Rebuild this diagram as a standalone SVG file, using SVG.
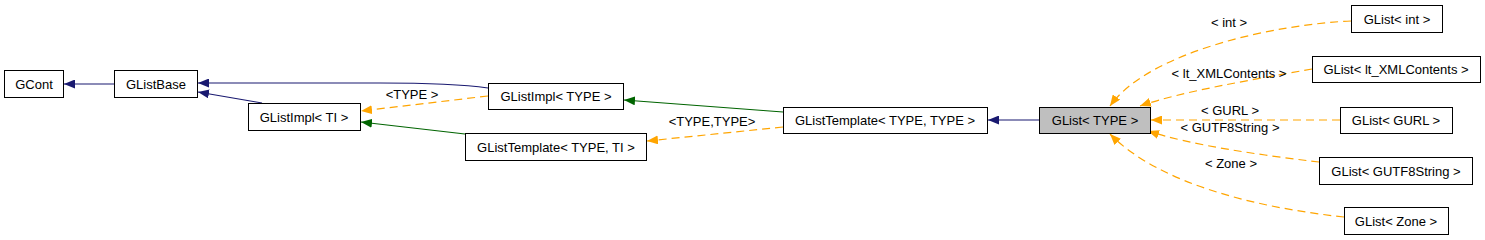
<svg xmlns="http://www.w3.org/2000/svg" width="1485" height="240" viewBox="0 0 1485 240">
<style>
.node rect{fill:#fff;stroke:#000;stroke-width:1}
.node.cur rect{fill:#bfbfbf}
text{font-family:"Liberation Sans",Arial,sans-serif;font-size:13px;fill:#000;text-anchor:middle}
.e{fill:none;stroke-width:1.2}
.inh{stroke:#191970}
.pub{stroke:#006400}
.tpl{stroke:#ffa500;stroke-dasharray:8,5}
</style>
<defs>
<marker id="aNavy" viewBox="0 0 11 9" refX="11" refY="4.5" markerWidth="11" markerHeight="9" markerUnits="userSpaceOnUse" orient="auto"><path d="M0,0 L11,4.5 L0,9 z" fill="#191970"/></marker>
<marker id="aGreen" viewBox="0 0 11 9" refX="11" refY="4.5" markerWidth="11" markerHeight="9" markerUnits="userSpaceOnUse" orient="auto"><path d="M0,0 L11,4.5 L0,9 z" fill="#006400"/></marker>
<marker id="aOrange" viewBox="0 0 11 9" refX="11" refY="4.5" markerWidth="11" markerHeight="9" markerUnits="userSpaceOnUse" orient="auto"><path d="M0,0 L11,4.5 L0,9 z" fill="#ffa500"/></marker>
</defs>
<g id="connectors">
<path class="e inh" d="M114,84 L64,84" marker-end="url(#aNavy)"/>
<path class="e inh" d="M488,88 C460,84 420,83 380,83 L198,83" marker-end="url(#aNavy)"/>
<path class="e inh" d="M262,103 L198,92" marker-end="url(#aNavy)"/>
<path class="e tpl" d="M488,96 L361,111" marker-end="url(#aOrange)"/>
<text x="412" y="99">&lt;TYPE &gt;</text>
<path class="e pub" d="M465,134 L361,122" marker-end="url(#aGreen)"/>
<path class="e pub" d="M783,112 L624,100" marker-end="url(#aGreen)"/>
<path class="e tpl" d="M783,127 L647,141" marker-end="url(#aOrange)"/>
<text x="712" y="126">&lt;TYPE,TYPE&gt;</text>
<path class="e inh" d="M1039,120 L988,120" marker-end="url(#aNavy)"/>
<path class="e tpl" d="M1351,21 C1280,24 1150,50 1110,106" marker-end="url(#aOrange)"/>
<text x="1229" y="27">&lt; int &gt;</text>
<path class="e tpl" d="M1312,69 C1250,80 1180,92 1140,106" marker-end="url(#aOrange)"/>
<text x="1229" y="78">&lt; lt_XMLContents &gt;</text>
<path class="e tpl" d="M1340,120 L1151,120" marker-end="url(#aOrange)"/>
<text x="1230" y="115">&lt; GURL &gt;</text>
<path class="e tpl" d="M1319,162 C1260,155 1190,145 1148,131" marker-end="url(#aOrange)"/>
<text x="1230" y="132">&lt; GUTF8String &gt;</text>
<path class="e tpl" d="M1344,217 C1260,208 1160,185 1110,134" marker-end="url(#aOrange)"/>
<text x="1231" y="168">&lt; Zone &gt;</text>
</g>
<g id="GCont" class="node"><rect x="4.5" y="70.5" width="59" height="27"/><text x="34" y="89">GCont</text></g>
<g id="GListBase" class="node"><rect x="114.5" y="70.5" width="83" height="27"/><text x="156" y="89">GListBase</text></g>
<g id="GListImplTI" class="node"><rect x="248.5" y="103.5" width="112" height="27"/><text x="304" y="122">GListImpl&lt; TI &gt;</text></g>
<g id="GListImplTYPE" class="node"><rect x="488.5" y="83.5" width="135" height="26"/><text x="556" y="101">GListImpl&lt; TYPE &gt;</text></g>
<g id="GListTemplateTYPETI" class="node"><rect x="465.5" y="133.5" width="181" height="27"/><text x="556" y="152">GListTemplate&lt; TYPE, TI &gt;</text></g>
<g id="GListTemplateTYPETYPE" class="node"><rect x="783.5" y="107.5" width="204" height="26"/><text x="885" y="125">GListTemplate&lt; TYPE, TYPE &gt;</text></g>
<g id="GListTYPE" class="node cur"><rect x="1039.5" y="107.5" width="111" height="26"/><text x="1095" y="125">GList&lt; TYPE &gt;</text></g>
<g id="GListInt" class="node"><rect x="1351.5" y="5.5" width="91" height="27"/><text x="1397" y="24">GList&lt; int &gt;</text></g>
<g id="GListXML" class="node"><rect x="1312.5" y="56.5" width="168" height="26"/><text x="1396" y="74">GList&lt; lt_XMLContents &gt;</text></g>
<g id="GListGURL" class="node"><rect x="1340.5" y="107.5" width="112" height="26"/><text x="1396" y="125">GList&lt; GURL &gt;</text></g>
<g id="GListGUTF8String" class="node"><rect x="1319.5" y="157.5" width="153" height="27"/><text x="1396" y="176">GList&lt; GUTF8String &gt;</text></g>
<g id="GListZone" class="node"><rect x="1344.5" y="207.5" width="104" height="27"/><text x="1396" y="226">GList&lt; Zone &gt;</text></g>
</svg>
